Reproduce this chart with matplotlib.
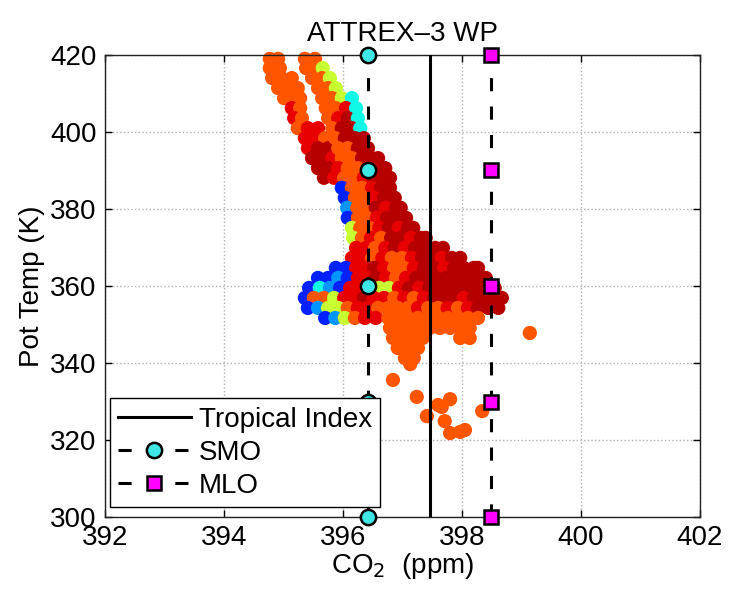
import matplotlib
matplotlib.use('Agg')
import matplotlib.pyplot as plt

# colour codes (position in the jet colour scale)
O, R, D, Y, C, L, B = 0.82, 0.91, 0.95, 0.59, 0.37, 0.27, 0.16

# western (left) upper branch
west_co2 = [394.77, 394.91, 394.77, 394.94, 394.81, 394.97, 395.14, 394.91, 395.08, 395.24,
            395.01, 395.18, 395.28, 395.14, 395.28, 395.18, 395.31, 395.24, 395.41, 395.58,
            395.36, 395.53, 395.70, 395.41, 395.58, 395.75, 395.48, 395.65, 395.82, 395.58,
            395.75, 395.68, 395.85]
west_theta = [419.0, 419.0, 416.6, 416.6, 414.0, 414.0, 414.0, 411.4, 411.4, 411.4,
              408.8, 408.8, 408.8, 406.2, 406.2, 403.6, 403.6, 401.0, 401.0, 401.0,
              398.4, 398.4, 398.4, 395.8, 395.8, 395.8, 393.2, 393.2, 393.2, 390.6,
              390.6, 388.1, 388.1]
west_c = [O, O, O, O, O, O, O, O, O, O,
          O, O, O, R, O, R, O, O, R, R,
          R, R, O, R, D, D, D, D, R, D,
          D, D, R]

# eastern upper branch
east_co2 = [395.36, 395.53, 395.38, 395.55, 395.66, 395.48, 395.65, 395.78, 395.58, 395.75,
            395.88, 395.65, 395.82, 395.98, 396.15, 395.71, 395.88, 396.05, 396.22, 395.75,
            395.92, 396.08, 396.25, 395.82, 395.98, 396.15, 396.29, 395.87, 396.03, 396.20,
            396.35, 395.92, 396.08, 396.25, 396.42, 395.98, 396.15, 396.32, 396.49, 396.59,
            395.92, 396.08, 396.25, 396.42, 396.59, 396.71, 396.02, 396.18, 396.35, 396.52,
            396.69, 396.79]
east_theta = [419.0, 419.0, 416.6, 416.6, 416.6, 414.0, 414.0, 414.0, 411.4, 411.4,
              411.4, 408.8, 408.8, 408.8, 408.8, 406.2, 406.2, 406.2, 406.2, 403.6,
              403.6, 403.6, 403.6, 401.0, 401.0, 401.0, 401.0, 398.4, 398.4, 398.4,
              398.4, 395.8, 395.8, 395.8, 395.8, 393.2, 393.2, 393.2, 393.2, 393.2,
              390.6, 390.6, 390.6, 390.6, 390.6, 390.6, 388.1, 388.1, 388.1, 388.1,
              388.1, 388.1]
east_c = [O, O, O, O, Y, O, O, Y, O, O,
          Y, O, O, Y, C, O, O, R, C, O,
          R, D, C, O, D, D, C, O, D, D,
          D, O, O, D, D, O, O, D, D, D,
          R, O, O, R, D, D, O, O, R, D,
          D, D]

# main core, 388 K down to 350 K
core_co2 = [395.98, 396.15, 396.32, 396.49, 396.64, 396.79,
            396.03, 396.20, 396.35, 396.52, 396.69, 396.87,
            396.07, 396.24, 396.39, 396.55, 396.72, 396.89, 396.97,
            396.08, 396.25, 396.40, 396.57, 396.74, 396.91, 397.06,
            396.15, 396.29, 396.44, 396.61, 396.77, 396.94, 397.09, 397.18,
            396.17, 396.32, 396.47, 396.64, 396.81, 396.97, 397.14, 397.31, 397.39,
            396.22, 396.39, 396.54, 396.71, 396.87, 397.04, 397.21, 397.38, 397.55, 397.68,
            396.15, 396.32, 396.49, 396.66, 396.82, 396.99, 397.16, 397.33, 397.50, 397.66,
            397.83, 397.97,
            395.88, 396.05, 396.22, 396.37, 396.52, 396.69, 396.86, 397.03, 397.19, 397.36,
            397.53, 397.70, 397.87, 398.03, 398.20, 398.27,
            395.58, 395.75, 395.92, 396.08, 396.25, 396.40, 396.55, 396.72, 396.89, 397.06,
            397.23, 397.39, 397.56, 397.73, 397.90, 398.07, 398.24, 398.40,
            395.43, 395.61, 395.78, 395.95, 396.12, 396.29, 396.44, 396.61, 396.77, 396.94,
            397.11, 397.28, 397.45, 397.61, 397.78, 397.95, 398.12, 398.29, 398.45, 398.55,
            395.36, 395.51, 395.68, 395.85, 396.02, 396.18, 396.35, 396.52, 396.69, 396.86,
            397.03, 397.19, 397.36, 397.53, 397.70, 397.87, 398.03, 398.20, 398.37, 398.54,
            398.67,
            395.41, 395.58, 395.75, 395.92, 396.08, 396.25, 396.42, 396.59, 396.76, 396.92,
            397.09, 397.26, 397.43, 397.60, 397.76, 397.93, 398.10, 398.27, 398.44, 398.61]
core_theta = [385.5] * 6 + [382.9] * 6 + [380.3] * 7 + [377.7] * 7 + [375.1] * 8 + \
             [372.5] * 9 + [369.9] * 10 + [367.3] * 12 + [364.7] * 16 + [362.1] * 18 + \
             [359.5] * 20 + [356.9] * 21 + [354.3] * 20
core_c = [B, O, O, R, D, D,
          B, O, O, R, D, D,
          L, O, O, D, R, D, D,
          B, O, O, R, D, D, D,
          Y, O, O, R, D, R, D, D,
          Y, O, R, O, D, D, R, D, D,
          R, R, O, R, D, R, D, D, D, D,
          R, R, O, R, O, O, R, D, D, R, D, D,
          B, B, R, R, D, R, O, O, R, D, D, R, D, D, D, D,
          B, B, L, B, R, R, D, R, O, R, D, D, D, D, D, D, D, D,
          B, C, L, B, R, R, D, Y, Y, R, D, R, D, D, D, D, D, D, D, D,
          B, O, O, Y, R, R, D, R, R, O, R, O, R, D, D, D, R, D, D, D, D,
          B, L, Y, Y, O, R, R, O, O, O, O, R, O, O, R, O, R, D, D, D]

# lower orange plume, 352 K to 340 K
plume_co2 = [395.70, 395.87, 396.03, 396.20, 396.37, 396.55, 396.76, 396.92, 397.09, 397.26,
             397.43, 397.60, 397.76, 397.93, 398.10, 398.27,
             396.79, 396.96, 397.13, 397.29, 397.46, 397.63, 397.80, 397.97, 398.13,
             396.84, 397.01, 397.18, 397.34, 397.97, 398.13,
             396.92, 397.09, 397.26,
             397.04, 397.19,
             397.13]
plume_theta = [351.7] * 16 + [349.1] * 9 + [346.5] * 6 + [343.9] * 3 + [341.3] * 2 + [339.7]
plume_c = [B, L, Y, O, R, R, O, O, O, O, O, O, O, O, O, O,
           O, O, O, O, O, O, O, O, O,
           O, O, O, O, O, O,
           O, O, O,
           O, O,
           O]

# isolated low points
stray_co2 = [396.84, 397.24, 397.41, 397.60, 397.66, 397.80, 397.71, 397.80, 397.97, 398.05,
             398.34, 399.14]
stray_theta = [335.6, 331.2, 326.2, 329.1, 328.6, 330.6, 324.9, 321.8, 322.1, 322.6,
               327.5, 347.8]
stray_c = [O] * 12

# reference values
tropical_index = 397.46
smo_co2 = 396.42
mlo_co2 = 398.49
station_theta = [300, 330, 360, 390, 420]

co2 = west_co2 + east_co2 + core_co2 + plume_co2 + stray_co2
theta = west_theta + east_theta + core_theta + plume_theta + stray_theta
cval = west_c + east_c + core_c + plume_c + stray_c

plt.rcParams['font.family'] = ['Liberation Sans', 'DejaVu Sans']

fig = plt.figure(figsize=(7.3, 5.9), dpi=100)
ax = fig.add_axes([0.1438, 0.1237, 0.8151, 0.7831])

ax.scatter(co2, theta, c=cval, cmap='jet', vmin=0, vmax=1, s=105,
           linewidths=0, zorder=2, clip_on=False)

ax.plot([tropical_index, tropical_index], [300, 420], color='black', lw=2.2,
        zorder=3, label='Tropical Index')
ax.plot([smo_co2] * len(station_theta), station_theta, color='black', lw=2.2,
        dashes=(4.3, 5), marker='o', ms=11, mfc='#3ee6e6', mec='black', mew=1.8,
        clip_on=False, zorder=4, label='SMO')
ax.plot([mlo_co2] * len(station_theta), station_theta, color='black', lw=2.2,
        dashes=(4.3, 5), marker='s', ms=9.5, mfc='#ff00ff', mec='black', mew=1.8,
        clip_on=False, zorder=4, label='MLO')

ax.set_xlim(392, 402)
ax.set_ylim(300, 420)
ax.set_xticks(range(392, 403, 2))
ax.set_yticks(range(300, 421, 20))
ax.grid(True, linestyle=':', color='#b0b0b0', lw=1.0)
ax.set_axisbelow(True)
ax.tick_params(direction='in', top=True, right=True, length=5, width=1,
               labelsize=20)
ax.tick_params(axis='x', pad=6)
ax.tick_params(axis='y', pad=6)
for sp in ax.spines.values():
    sp.set_linewidth(1.0)
    sp.set_color('#222222')

ax.set_title('ATTREX\u20133 WP', fontsize=20, pad=10)
ax.set_xlabel('CO$_2$  (ppm)', fontsize=20, labelpad=0)
ax.set_ylabel('Pot Temp (K)', fontsize=20, labelpad=4)

leg = ax.legend(loc='lower left', bbox_to_anchor=(0.0085, 0.022), borderaxespad=0,
                fontsize=20, numpoints=1, handlelength=2.6, handletextpad=0.3,
                labelspacing=0.25, borderpad=0.3, fancybox=False, framealpha=1,
                edgecolor='black')
leg.get_frame().set_linewidth(1.0)

plt.savefig('out.png', dpi=100)
